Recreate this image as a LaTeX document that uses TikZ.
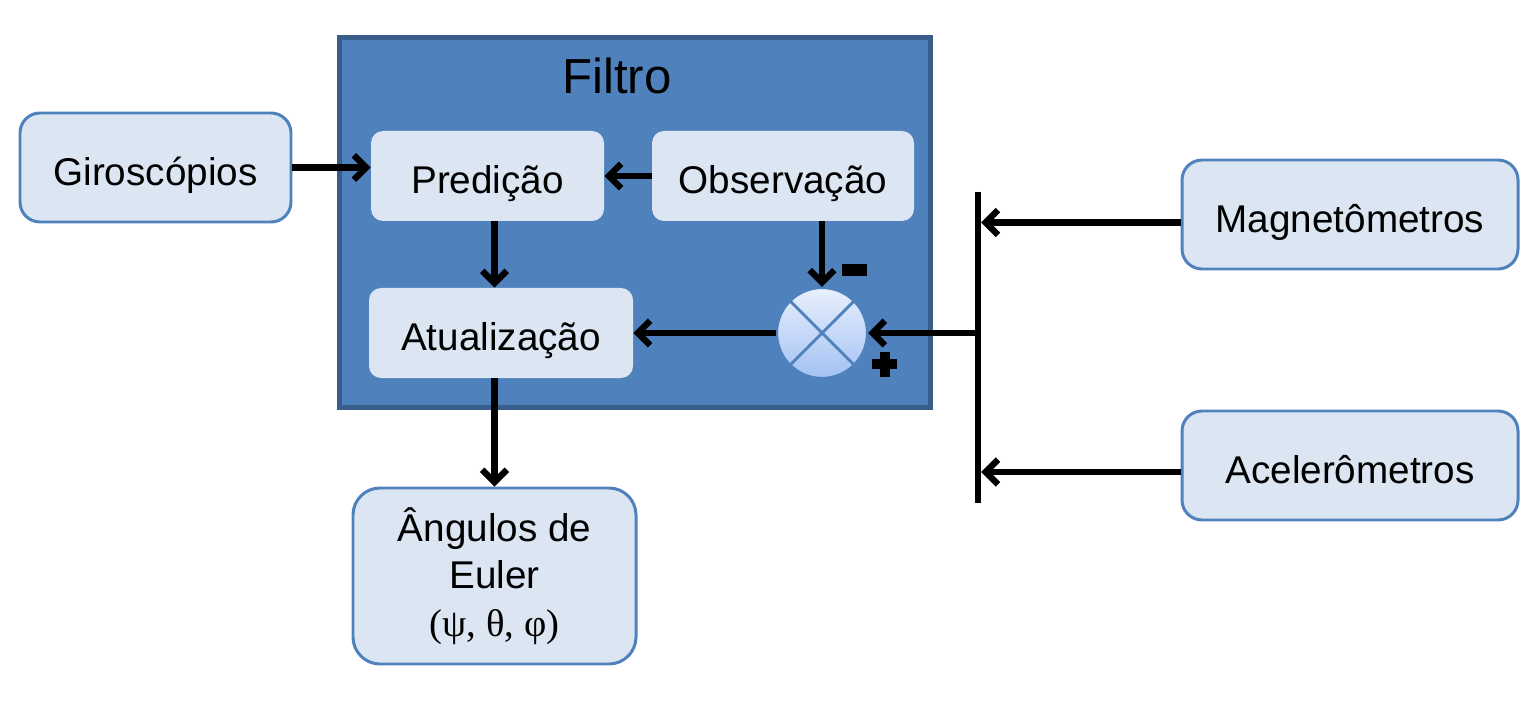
\documentclass[tikz,border=0pt]{standalone}
\usepackage{fontspec}
\setmainfont{Liberation Sans}
\newfontfamily\greekfont{Liberation Serif}
\usetikzlibrary{arrows.meta,positioning}
\definecolor{filtroazul}{HTML}{4F81BD}
\definecolor{filtroborda}{HTML}{385D8A}
\definecolor{caixaclara}{HTML}{DCE6F2}
\definecolor{somatopo}{HTML}{E8F0FC}
\definecolor{somabase}{HTML}{A3C1F3}
\tikzset{
  sensor/.style={
    draw=filtroazul,
    line width=1.7pt,
    fill=caixaclara,
    rounded corners=0.4cm,
    inner sep=0pt,
    minimum width=5.42cm,
    minimum height=2.18cm,
    align=center,
    font=\fontsize{22}{27}\selectfont
  },
  bloco/.style={
    fill=caixaclara,
    rounded corners=0.24cm,
    inner sep=0pt,
    minimum height=1.8cm,
    font=\fontsize{22}{27}\selectfont
  },
  umalinha/.style={text height=20pt, text depth=0pt},
  fluxo/.style={line width=3.6pt, -{Straight Barb[length=7pt,width=14pt]}}
}

\begin{document}
\begin{tikzpicture}

  \useasboundingbox (0, 0) rectangle (30.78, 14.08);

  \node[draw=filtroborda, line width=0.1cm, fill=filtroazul, inner sep=0pt,
        minimum width=11.82cm, minimum height=7.40cm] (filtro) at (12.70, 9.63) {};
  \node[font=\fontsize{28}{34}\selectfont] (filtrotit) at (12.34, 12.56) {Filtro};

  \node[sensor, umalinha] (giro) at (3.11, 10.73) {Giroscópios};
  \node[sensor, umalinha, minimum width=6.72cm] (mag) at (27.00, 9.79) {Magnetômetros};
  \node[sensor, umalinha, minimum width=6.72cm] (acel) at (27.00, 4.77) {Acelerômetros};
  \node[sensor, rounded corners=0.54cm, minimum width=5.66cm, minimum height=3.52cm] (euler) at (9.89, 2.56)
    {Ângulos de\\Euler\\{\greekfont(ψ, θ, φ)}};

  \node[bloco, umalinha, minimum width=4.66cm] (pred) at (9.75, 10.56) {Predição};
  \node[bloco, umalinha, minimum width=5.24cm] (obs) at (15.66, 10.56) {Observação};
  \node[bloco, umalinha, minimum width=5.28cm] (atual) at (10.02, 7.42) {Atualização};

  \node[circle, draw=filtroazul, line width=1.2pt, top color=somatopo, bottom color=somabase,
        inner sep=0pt, minimum size=1.8cm] (soma) at (16.44, 7.42) {};
  \draw[filtroazul, line width=1.6pt] (soma.45) -- (soma.225);
  \draw[filtroazul, line width=1.6pt] (soma.135) -- (soma.315);

  % sinais do somador
  \fill ([shift={(0.40, 1.14)}]soma.center) rectangle ([shift={(0.90, 1.38)}]soma.center);
  \fill ([shift={(1.00, -0.72)}]soma.center) rectangle ([shift={(1.50, -0.52)}]soma.center);
  \fill ([shift={(1.15, -0.87)}]soma.center) rectangle ([shift={(1.35, -0.37)}]soma.center);

  \coordinate (barratopo) at (19.56, 10.24);
  \coordinate (barrabase) at (19.56, 4.02);
  \draw[line width=3.6pt] (barratopo) -- (barrabase);

  \draw[fluxo] (giro.east) -- (giro.east -| pred.west);
  \draw[fluxo] (obs.west) -- (pred.east);
  \draw[fluxo] (pred.south -| euler.north) -- (atual.north -| euler.north);
  \draw[fluxo] (obs.south -| soma) -- (soma.north);
  \draw[fluxo] (soma.west) -- (atual.east);
  \draw[fluxo] (barratopo |- soma) -- (soma.east);
  \draw[fluxo, shorten >=1.8pt] ([yshift=-0.16cm]mag.west) -- ([yshift=-0.16cm]mag.west -| barratopo);
  \draw[fluxo, shorten >=1.8pt] ([yshift=-0.13cm]acel.west) -- ([yshift=-0.13cm]acel.west -| barratopo);
  \draw[fluxo] (atual.south -| euler.north) -- (euler.north);

\end{tikzpicture}
\end{document}
